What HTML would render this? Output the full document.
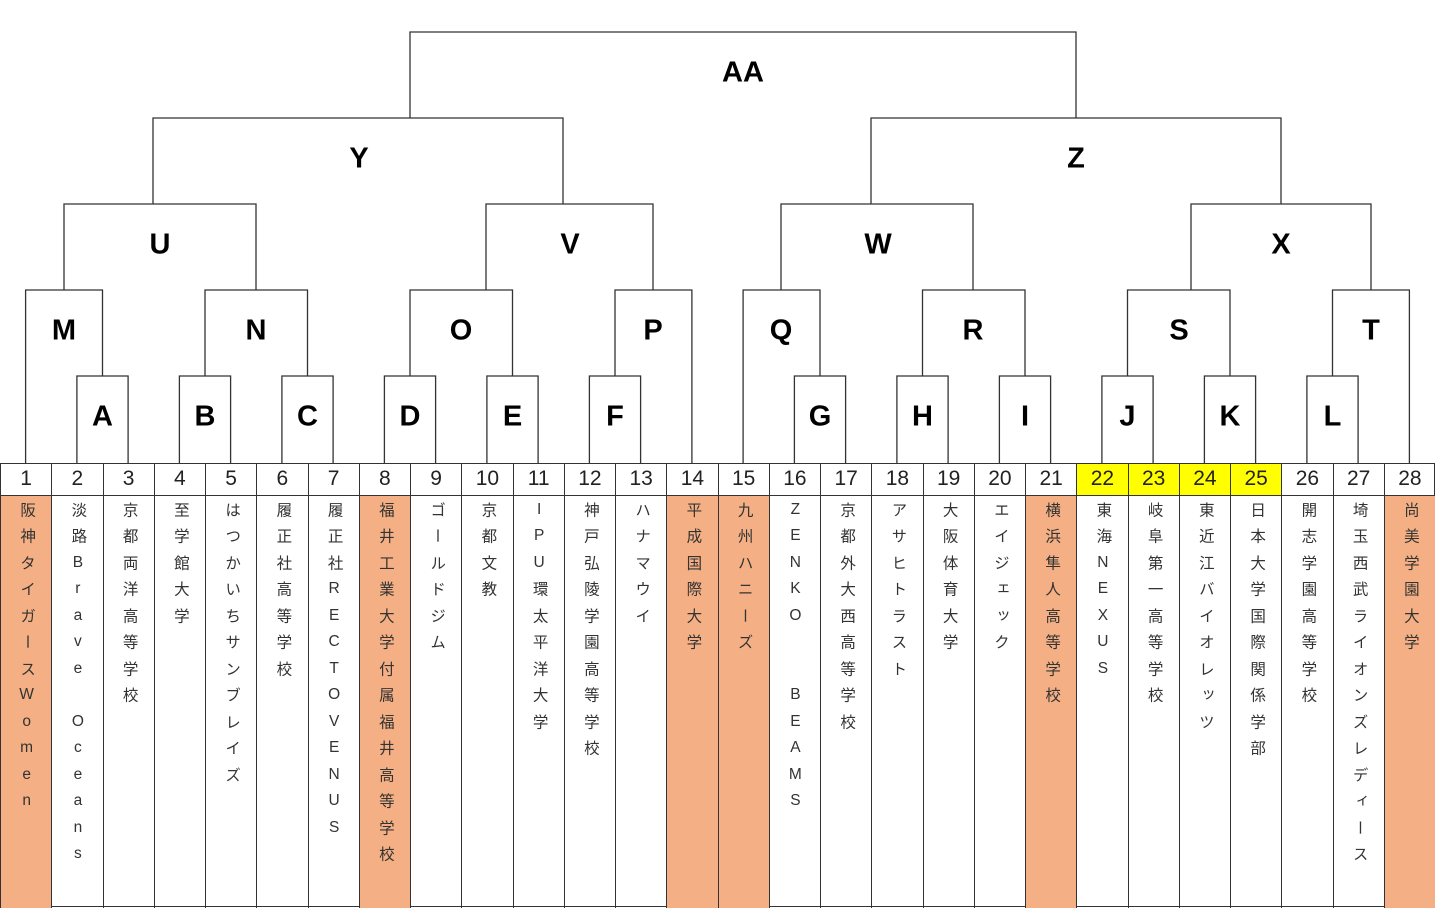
<!DOCTYPE html>
<html><head><meta charset="utf-8">
<style>
html,body{margin:0;padding:0;background:#fff;}
body{width:1438px;height:910px;position:relative;overflow:hidden;font-family:"Liberation Sans","Noto Sans CJK JP",sans-serif;}
svg{position:absolute;left:0;top:0;}
.lb{position:absolute;font-weight:bold;font-size:29px;color:#000;transform:translate(-50%,-50%);line-height:1;}
.grid{position:absolute;left:0;top:463px;width:1435px;height:444px;display:grid;grid-template-columns:repeat(28,51.25px);grid-template-rows:32px 412px;border-bottom:1.5px solid #333;border-top:1.3px solid #333;border-right:1.3px solid #333;box-sizing:border-box;}
.n{border-left:1.3px solid #333;border-bottom:1.3px solid #333;text-align:center;font-size:21px;line-height:30px;color:#222;}
.y{background:#ffff00;}
.t{border-left:1.3px solid #333;display:flex;flex-direction:column;align-items:center;padding-top:0;}
.t span{writing-mode:vertical-rl;text-orientation:upright;font-size:15px;color:#333;line-height:1;}
.t i{font-style:normal;display:block;height:26.5px;width:20px;text-align:center;writing-mode:vertical-rl;text-orientation:upright;font-size:15.5px;color:#333;line-height:20px;overflow:hidden;}
.o{background:#f4b084;}
</style></head><body>
<svg width="1438" height="910" viewBox="0 0 1438 910">
<g fill="none" stroke="#333" stroke-width="1.3">
<path d="M76.9 463V376H128.1V463"/>
<path d="M179.4 463V376H230.6V463"/>
<path d="M281.9 463V376H333.1V463"/>
<path d="M384.4 463V376H435.6V463"/>
<path d="M486.9 463V376H538.1V463"/>
<path d="M589.4 463V376H640.6V463"/>
<path d="M794.4 463V376H845.6V463"/>
<path d="M896.9 463V376H948.1V463"/>
<path d="M999.4 463V376H1050.6V463"/>
<path d="M1101.9 463V376H1153.1V463"/>
<path d="M1204.4 463V376H1255.6V463"/>
<path d="M1306.9 463V376H1358.1V463"/>
<path d="M25.6 463V290H102.5V376"/>
<path d="M205 376V290H307.5V376"/>
<path d="M410 376V290H512.5V376"/>
<path d="M615 376V290H691.9V463"/>
<path d="M743.1 463V290H820V376"/>
<path d="M922.5 376V290H1025V376"/>
<path d="M1127.5 376V290H1230V376"/>
<path d="M1332.5 376V290H1409.4V463"/>
<path d="M64 290V204H256V290"/>
<path d="M486 290V204H653V290"/>
<path d="M781 290V204H973V290"/>
<path d="M1191 290V204H1371V290"/>
<path d="M153 204V118H563V204"/>
<path d="M871 204V118H1281V204"/>
<path d="M410 118V32H1076V118"/>
</g></svg>
<div class="lb" style="left:743px;top:73px">AA</div>
<div class="lb" style="left:359px;top:159px">Y</div>
<div class="lb" style="left:1076px;top:159px">Z</div>
<div class="lb" style="left:160px;top:245px">U</div>
<div class="lb" style="left:570px;top:245px">V</div>
<div class="lb" style="left:878px;top:245px">W</div>
<div class="lb" style="left:1281px;top:245px">X</div>
<div class="lb" style="left:64px;top:331px">M</div>
<div class="lb" style="left:256px;top:331px">N</div>
<div class="lb" style="left:461px;top:331px">O</div>
<div class="lb" style="left:653px;top:331px">P</div>
<div class="lb" style="left:781px;top:331px">Q</div>
<div class="lb" style="left:973px;top:331px">R</div>
<div class="lb" style="left:1179px;top:331px">S</div>
<div class="lb" style="left:1371px;top:331px">T</div>
<div class="lb" style="left:102.5px;top:417px">A</div>
<div class="lb" style="left:205px;top:417px">B</div>
<div class="lb" style="left:307.5px;top:417px">C</div>
<div class="lb" style="left:410px;top:417px">D</div>
<div class="lb" style="left:512.5px;top:417px">E</div>
<div class="lb" style="left:615px;top:417px">F</div>
<div class="lb" style="left:820px;top:417px">G</div>
<div class="lb" style="left:922.5px;top:417px">H</div>
<div class="lb" style="left:1025px;top:417px">I</div>
<div class="lb" style="left:1127.5px;top:417px">J</div>
<div class="lb" style="left:1230px;top:417px">K</div>
<div class="lb" style="left:1332.5px;top:417px">L</div>
<div class="grid">
<div class="n">1</div><div class="n">2</div><div class="n">3</div><div class="n">4</div><div class="n">5</div><div class="n">6</div><div class="n">7</div><div class="n">8</div><div class="n">9</div><div class="n">10</div><div class="n">11</div><div class="n">12</div><div class="n">13</div><div class="n">14</div><div class="n">15</div><div class="n">16</div><div class="n">17</div><div class="n">18</div><div class="n">19</div><div class="n">20</div><div class="n">21</div><div class="n y">22</div><div class="n y">23</div><div class="n y">24</div><div class="n y">25</div><div class="n">26</div><div class="n">27</div><div class="n">28</div>
<div class="t o"><span>阪神タイガースWomen</span></div>
<div class="t"><span>淡路Brave　Oceans</span></div>
<div class="t"><span>京都両洋高等学校</span></div>
<div class="t"><span>至学館大学</span></div>
<div class="t"><span>はつかいちサンブレイズ</span></div>
<div class="t"><span>履正社高等学校</span></div>
<div class="t"><span>履正社RECTOVENUS</span></div>
<div class="t o"><span>福井工業大学付属福井高等学校</span></div>
<div class="t"><span>ゴールドジム</span></div>
<div class="t"><span>京都文教</span></div>
<div class="t"><span>IPU環太平洋大学</span></div>
<div class="t"><span>神戸弘陵学園高等学校</span></div>
<div class="t"><span>ハナマウイ</span></div>
<div class="t o"><span>平成国際大学</span></div>
<div class="t o"><span>九州ハニーズ</span></div>
<div class="t"><span>ZENKO　　BEAMS</span></div>
<div class="t"><span>京都外大西高等学校</span></div>
<div class="t"><span>アサヒトラスト</span></div>
<div class="t"><span>大阪体育大学</span></div>
<div class="t"><span>エイジェック</span></div>
<div class="t o"><span>横浜隼人高等学校</span></div>
<div class="t"><span>東海NEXUS</span></div>
<div class="t"><span>岐阜第一高等学校</span></div>
<div class="t"><span>東近江バイオレッツ</span></div>
<div class="t"><span>日本大学国際関係学部</span></div>
<div class="t"><span>開志学園高等学校</span></div>
<div class="t"><span>埼玉西武ライオンズレディース</span></div>
<div class="t o"><span>尚美学園大学</span></div>
</div>
<script>
document.querySelectorAll('.t span').forEach(function(s){
  var txt=s.textContent, p=s.parentNode; p.removeChild(s);
  Array.from(txt).forEach(function(c){var e=document.createElement('i');e.textContent=c;p.appendChild(e);});
});
</script>
</body></html>
